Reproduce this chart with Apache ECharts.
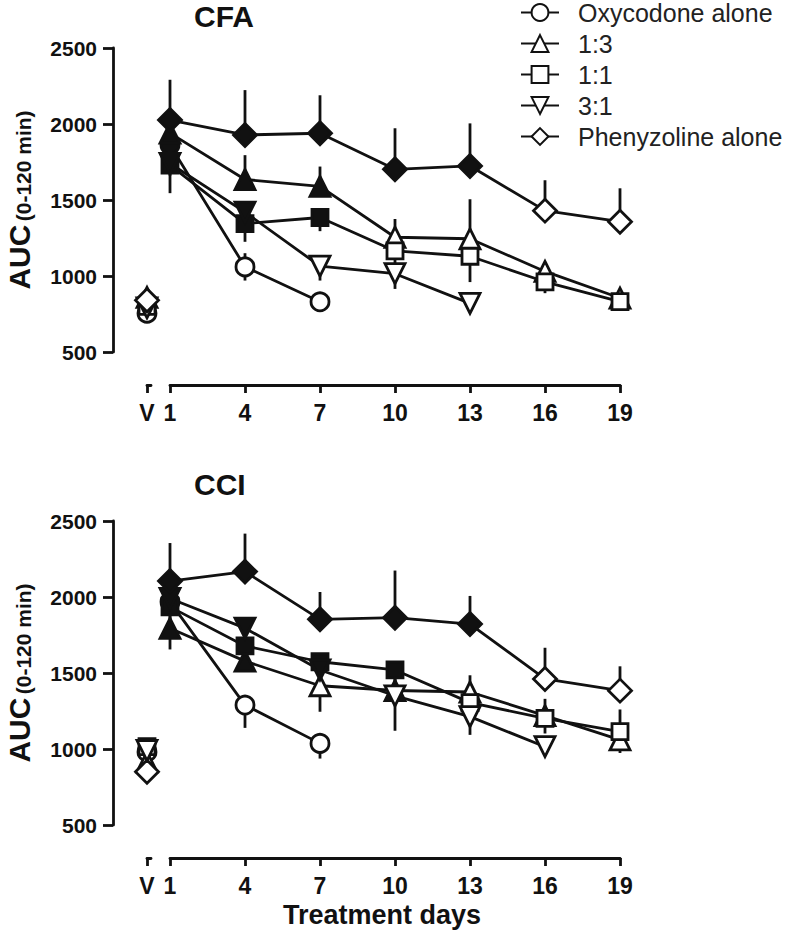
<!DOCTYPE html>
<html><head><meta charset="utf-8">
<script src="https://cdn.jsdelivr.net/npm/echarts@6/dist/echarts.min.js"></script>
<style>html,body{margin:0;padding:0;background:#fff}#c{width:800px;height:940px}</style>
</head><body><div id="c"></div>
<script>
// ---------- data ----------
const days = [1, 4, 7, 10, 13, 16, 19];
const xTicks = [1, 4, 7, 10, 13, 16, 19];
const groups = ['Oxycodone alone', '1:3', '1:1', '3:1', 'Phenyzoline alone'];

// CFA panel
const cfaOxy   = [1862, 1060, 830];
const cfa13    = [1940, 1635, 1590, 1255, 1245, 1030, 855];
const cfa11    = [1730, 1345, 1385, 1165, 1130, 962, 831];
const cfa31    = [1740, 1420, 1065, 1015, 820];
const cfaPhen  = [2026, 1928, 1939, 1702, 1724, 1430, 1357];
const cfaOxyErr  = [60, 90, 65];
const cfa13Err   = [100, 160, 130, 120, 260, 60, 30];
const cfa11Err   = [185, 120, 90, 80, 170, 75, 40];
const cfa31Err   = [80, 90, 95, 100, 40];
const cfaPhenErr = [265, 295, 250, 270, 280, 200, 220];
const cfaOxyFilled  = [1, 0, 0];
const cfa13Filled   = [1, 1, 1, 0, 0, 0, 0];
const cfa11Filled   = [1, 1, 1, 0, 0, 0, 0];
const cfa31Filled   = [1, 1, 0, 0, 0];
const cfaPhenFilled = [1, 1, 1, 1, 1, 0, 0];
const cfaErrDir = ['both', 'up', 'down', 'down', 'up'];
const cfaVehicle = [755, 860, 800, 790, 840];

// CCI panel
const cciOxy   = [1968, 1289, 1037];
const cci13    = [1794, 1578, 1416, 1385, 1375, 1220, 1060];
const cci11    = [1935, 1678, 1574, 1520, 1305, 1202, 1114];
const cci31    = [1990, 1795, 1520, 1350, 1213, 1015];
const cciPhen  = [2105, 2167, 1853, 1864, 1822, 1461, 1384];
const cciOxyErr  = [60, 150, 100];
const cci13Err   = [80, 120, 100, 100, 110, 110, 200];
const cci11Err   = [280, 100, 80, 130, 100, 100, 140];
const cci31Err   = [100, 80, 275, 230, 120, 50];
const cciPhenErr = [250, 250, 180, 310, 185, 205, 160];
const cciOxyFilled  = [1, 0, 0];
const cci13Filled   = [1, 1, 0, 1, 0, 0, 0];
const cci11Filled   = [1, 1, 1, 1, 0, 0, 0];
const cci31Filled   = [1, 1, 1, 0, 0, 0];
const cciPhenFilled = [1, 1, 1, 1, 1, 0, 0];
const cciErrDir = ['down', 'up', 'down', 'down', 'up'];
const cciVehicle = [981, 916, 1015, 990, 851];

// ---------- styles ----------
const FONT = "'Liberation Sans', Arial, Helvetica, sans-serif";
const INK = '#111';
const LW = 2.8;
const symbols = [
  {symbol: 'circle', size: 18, rotate: 0},
  {symbol: 'triangle', size: 20, rotate: 0},
  {symbol: 'rect', size: 16, rotate: 0},
  {symbol: 'triangle', size: 20, rotate: 180},
  {symbol: 'diamond', size: 23, rotate: 0}
];

function errRender(params, api) {
  const x = api.value(0), lo = api.value(2), hi = api.value(3);
  const p1 = api.coord([x, lo]), p2 = api.coord([x, hi]);
  return {type: 'line', shape: {x1: p1[0], y1: p1[1], x2: p2[0], y2: p2[1]},
          style: {stroke: INK, lineWidth: LW}};
}

function panelSeries(p, vals, errs, filled, dirs, vehicle) {
  const xi = p * 2, vxi = p * 2 + 1;
  const out = [];
  groups.forEach((g, k) => {
    const data = vals[k].map((v, i) => {
      const e = errs[k][i], d = dirs[k];
      return [days[i], v, d === 'up' ? v : v - e, d === 'down' ? v : v + e];
    });
    out.push({type: 'custom', name: 'err-' + p + '-' + k, xAxisIndex: xi, yAxisIndex: xi,
      renderItem: errRender, data: data, encode: {x: 0, y: 1}, z: 1, silent: true, animation: false});
  });
  groups.forEach((g, k) => {
    const s = symbols[k];
    out.push({type: 'line', name: g, xAxisIndex: xi, yAxisIndex: xi,
      symbol: s.symbol, symbolSize: s.size, symbolRotate: s.rotate, showAllSymbol: true,
      lineStyle: {color: INK, width: LW},
      itemStyle: {color: '#fff', borderColor: INK, borderWidth: LW, opacity: 1},
      emphasis: {disabled: true},
      data: vals[k].map((v, i) => filled[k][i]
        ? {value: [days[i], v], itemStyle: {color: INK}}
        : {value: [days[i], v]}),
      z: 2, animation: false});
  });
  groups.forEach((g, k) => {
    const s = symbols[k];
    out.push({type: 'scatter', name: 'V-' + p + '-' + k, xAxisIndex: vxi, yAxisIndex: vxi,
      symbol: s.symbol, symbolSize: s.size, symbolRotate: s.rotate,
      itemStyle: {color: '#fff', borderColor: INK, borderWidth: LW, opacity: 1},
      emphasis: {disabled: true},
      data: [[0, vehicle[k]]], z: 2, animation: false});
  });
  return out;
}

const gridTops = [48, 521];
const grids = [];
const xAxes = [];
const yAxes = [];
gridTops.forEach((top, p) => {
  grids.push({left: 170, width: 450, top: top, height: 304, outerBoundsMode: 'none'});
  grids.push({left: 147, width: 4, top: top, height: 304, outerBoundsMode: 'none'});
  const labelStyle = {fontSize: 23, fontWeight: 'bold', color: INK, fontFamily: FONT, margin: 16};
  xAxes.push({type: 'value', gridIndex: p * 2, min: 1, max: 19, position: 'bottom', offset: 33,
    axisLine: {show: true, lineStyle: {color: INK, width: LW}},
    axisTick: {show: true, length: 8, lineStyle: {color: INK, width: LW}, customValues: xTicks},
    axisLabel: Object.assign({customValues: xTicks}, labelStyle),
    splitLine: {show: false}});
  xAxes.push({type: 'value', gridIndex: p * 2 + 1, min: 0, max: 1, position: 'bottom', offset: 33,
    axisLine: {show: true, lineStyle: {color: INK, width: LW}},
    axisTick: {show: true, length: 8, lineStyle: {color: INK, width: LW}, customValues: [0]},
    axisLabel: Object.assign({customValues: [0], formatter: () => 'V'}, labelStyle),
    splitLine: {show: false}});
  yAxes.push({type: 'value', gridIndex: p * 2, min: 500, max: 2500, interval: 500, offset: 57,
    axisLine: {show: true, lineStyle: {color: INK, width: LW}},
    axisTick: {show: true, length: 10, lineStyle: {color: INK, width: LW}},
    axisLabel: {fontSize: 21, fontWeight: 'bold', color: INK, fontFamily: FONT, margin: 16,
      formatter: v => String(v)},
    splitLine: {show: false},
    name: '{a|AUC} {b|(0-120 min)}', nameLocation: 'middle', nameRotate: 90, nameGap: 79,
    nameTextStyle: {color: INK, rich: {
      a: {fontSize: 30, fontWeight: 'bold', fontFamily: FONT, color: INK},
      b: {fontSize: 21, fontWeight: 'bold', fontFamily: FONT, color: INK, padding: [8, 0, 0, 0]}
    }}});
  yAxes.push({type: 'value', gridIndex: p * 2 + 1, min: 500, max: 2500, show: false});
});

const series = [].concat(
  panelSeries(0, [cfaOxy, cfa13, cfa11, cfa31, cfaPhen],
    [cfaOxyErr, cfa13Err, cfa11Err, cfa31Err, cfaPhenErr],
    [cfaOxyFilled, cfa13Filled, cfa11Filled, cfa31Filled, cfaPhenFilled], cfaErrDir, cfaVehicle),
  panelSeries(1, [cciOxy, cci13, cci11, cci31, cciPhen],
    [cciOxyErr, cci13Err, cci11Err, cci31Err, cciPhenErr],
    [cciOxyFilled, cci13Filled, cci11Filled, cci31Filled, cciPhenFilled], cciErrDir, cciVehicle)
);

const chart = echarts.init(document.getElementById('c'), null, {renderer: 'svg'});
chart.setOption({
  animation: false,
  backgroundColor: '#fff',
  title: [
    {text: 'CFA', left: 194, top: 1, padding: 0, textStyle: {fontSize: 30, fontWeight: 'bold', color: INK, fontFamily: FONT}},
    {text: 'CCI', left: 194, top: 469, padding: 0, textStyle: {fontSize: 30, fontWeight: 'bold', color: INK, fontFamily: FONT}},
    {text: 'Treatment days', left: 283, top: 901, padding: 0, textStyle: {fontSize: 27, fontWeight: 'bold', color: INK, fontFamily: FONT}}
  ],
  legend: {data: groups, orient: 'vertical', left: 520, top: 0, padding: 0,
    itemWidth: 38, itemHeight: 21, itemGap: 6, selectedMode: false,
    textStyle: {fontSize: 25, color: '#222', fontFamily: FONT, padding: [0, 0, 0, 14]}},
  grid: grids,
  xAxis: xAxes,
  yAxis: yAxes,
  series: series
});
</script>
</body></html>
